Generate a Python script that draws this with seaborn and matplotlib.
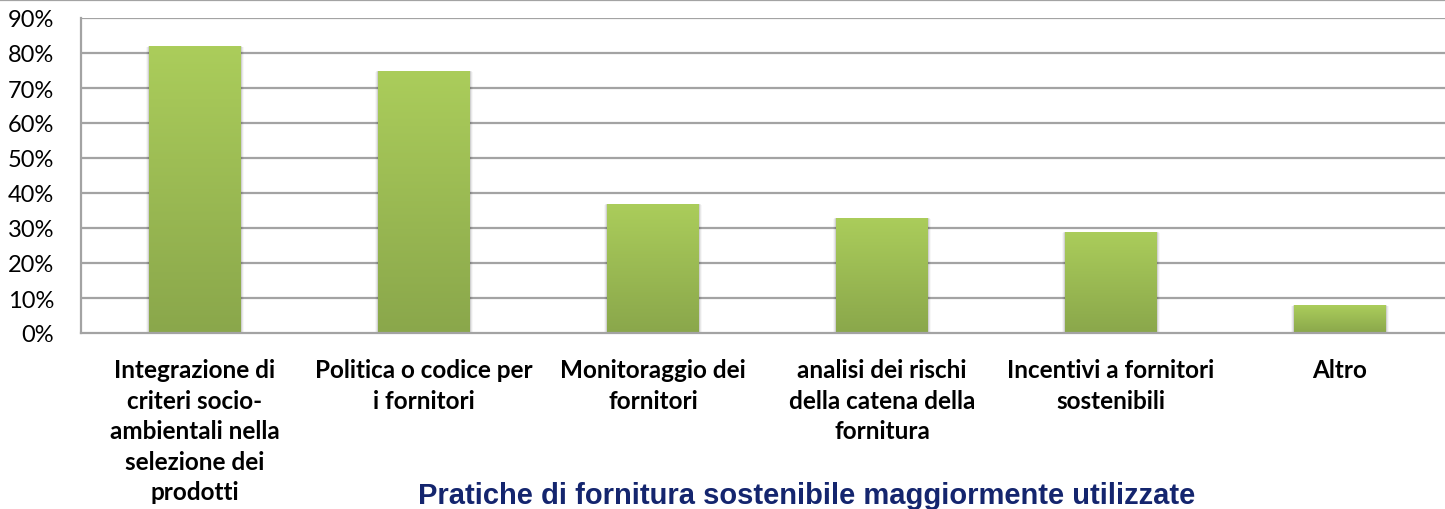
import numpy as np
import pandas as pd
import matplotlib
matplotlib.use("Agg")
import matplotlib.pyplot as plt
import seaborn as sns
from matplotlib.ticker import PercentFormatter, FixedLocator
from matplotlib.lines import Line2D

# ---- data ----
categories = [
    "Integrazione di criteri socio-ambientali nella selezione dei prodotti",
    "Politica o codice per i fornitori",
    "Monitoraggio dei fornitori",
    "analisi dei rischi della catena della fornitura",
    "Incentivi a fornitori sostenibili",
    "Altro",
]
values = [0.82, 0.75, 0.37, 0.33, 0.29, 0.08]
tick_labels = [
    "Integrazione di\ncriteri socio-\nambientali nella\nselezione dei\nprodotti",
    "Politica o codice per\ni fornitori",
    "Monitoraggio dei\nfornitori",
    "analisi dei rischi\ndella catena della\nfornitura",
    "Incentivi a fornitori\nsostenibili",
    "Altro",
]
y_ticks = [0.0, 0.1, 0.2, 0.3, 0.4, 0.5, 0.6, 0.7, 0.8, 0.9]
title = "Pratiche di fornitura sostenibile maggiormente utilizzate"

sns.set_theme(style="white")
plt.rcParams["font.family"] = ["Lato", "DejaVu Sans"]

fig = plt.figure(figsize=(14.45, 5.10), dpi=100)
ax = fig.add_axes([80.5 / 1445, 176 / 510, 1374 / 1445, 315 / 510])

df = pd.DataFrame({"cat": categories, "val": values})
sns.barplot(data=df, x="cat", y="val", ax=ax, width=0.4, color="#9BBB52",
            order=categories, zorder=3)

# gradient fill for bars
grad = np.linspace(0, 1, 256).reshape(-1, 1)
top_c = np.array([171, 205, 91]) / 255.0
bot_c = np.array([138, 167, 75]) / 255.0
img = top_c[None, None, :] * (1 - grad[:, :, None]) + bot_c[None, None, :] * grad[:, :, None]
for p in ax.patches:
    x0, y0 = p.get_x(), p.get_y()
    w, h = p.get_width(), p.get_height()
    # soft shadow
    for k, a in enumerate([0.10, 0.06, 0.03]):
        d = 0.004 * (k + 1)
        ax.add_patch(plt.Rectangle((x0 - d, y0 - 0.003 * (k + 1)), w + 2 * d, h + 0.002 * (k + 1),
                                   facecolor="black", alpha=a, edgecolor="none", zorder=2.5))
    p.set_facecolor("none")
    p.set_edgecolor("none")
    im = ax.imshow(img, extent=[x0, x0 + w, y0, y0 + h], aspect="auto", zorder=3.5)
    im.set_clip_path(p)

ax.set_xlim(-0.5, len(categories) - 0.5)
ax.set_ylim(0, 0.9)
ax.set_xlabel("")
ax.set_ylabel("")

grid_c = "#A3A3A3"
ax.yaxis.set_major_locator(FixedLocator(y_ticks))
ax.yaxis.set_major_formatter(PercentFormatter(1.0, decimals=0))
for yv in y_ticks[1:]:
    ax.axhline(yv, color=grid_c, lw=1.6, zorder=1)

ax.set_xticks(range(len(categories)))
ax.set_xticklabels(tick_labels, fontsize=17.5, fontweight="bold", color="black",
                   linespacing=1.4, va="top")
ax.set_xticks(np.arange(-0.5, len(categories), 1.0), minor=True)
ax.tick_params(axis="x", which="major", length=0, pad=18)
ax.tick_params(axis="x", which="minor", length=7, width=1.6, color=grid_c, direction="out")
ax.tick_params(axis="y", which="major", length=7, width=1.6, color=grid_c, direction="out",
               labelsize=17, labelcolor="black", pad=12)

for s in ["top", "right"]:
    ax.spines[s].set_visible(False)
for s in ["left", "bottom"]:
    ax.spines[s].set_color(grid_c)
    ax.spines[s].set_linewidth(1.6)
ax.spines["bottom"].set_zorder(4)

# top border line
fig.add_artist(Line2D([0, 1], [1 - 1.0 / 510, 1 - 1.0 / 510], color="#A3A3A3", lw=1.6,
                      transform=fig.transFigure))

fig.text(418 / 1445, 6 / 510, title, ha="left", va="baseline", fontsize=21,
         fontweight="bold", color="#14256E", family=["Liberation Sans", "DejaVu Sans"])

fig.savefig("out.png", dpi=100)
